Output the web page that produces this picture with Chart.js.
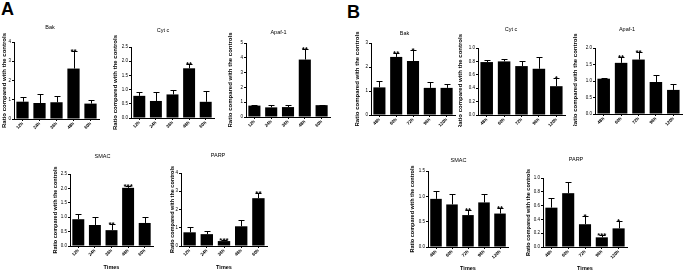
<!DOCTYPE html>
<html><head><meta charset="utf-8">
<script src="https://cdn.jsdelivr.net/npm/chart.js@4.4.1/dist/chart.umd.min.js"></script>
<style>
html,body{margin:0;padding:0;background:#fff;width:685px;height:273px;overflow:hidden;position:relative;font-family:"Liberation Sans",Arial,sans-serif;}
canvas{position:absolute;}
.lbl{position:absolute;font-weight:bold;font-size:18px;line-height:18px;color:#000;}
</style></head><body>
<div class="lbl" style="left:1px;top:0px;">A</div>
<div class="lbl" style="left:347px;top:3px;">B</div>
<script>
// ---- data ----
const timesA = ['12h','24h','36h','48h','60h'];
const timesB = ['48h','60h','72h','96h','120h'];
const yTitle = 'Ratio compared with the controls';
const xTitle = 'Times';

const bakA = [0.90, 0.83, 0.87, 2.62, 0.80];
const bakAErr = [0.22, 0.45, 0.31, 0.93, 0.17];
const bakAStars = ['', '', '', '**', ''];

const cytcA = [0.78, 0.60, 0.83, 1.75, 0.57];
const cytcAErr = [0.12, 0.33, 0.14, 0.15, 0.38];
const cytcAStars = ['', '', '', '**', ''];

const apafA = [0.77, 0.65, 0.67, 3.88, 0.80];
const apafAErr = [0.02, 0.15, 0.15, 0.74, 0.04];
const apafAStars = ['', '', '', '**', ''];

const smacA = [0.93, 0.73, 0.55, 2.02, 0.80];
const smacAErr = [0.17, 0.29, 0.20, 0.05, 0.20];
const smacAStars = ['', '', '**', '***', ''];

const parpA = [0.75, 0.65, 0.27, 1.08, 2.62];
const parpAErr = [0.30, 0.17, 0.05, 0.32, 0.28];
const parpAStars = ['', '', '***', '', '**'];

const bakB = [1.15, 2.42, 2.25, 1.13, 1.13];
const bakBErr = [0.28, 0.18, 0.45, 0.25, 0.17];
const bakBStars = ['', '**', '*', '', ''];

const cytcB = [0.79, 0.80, 0.73, 0.69, 0.43];
const cytcBErr = [0.03, 0.03, 0.08, 0.18, 0.12];
const cytcBStars = ['', '', '', '', '*'];

const apafB = [1.07, 1.55, 1.65, 0.97, 0.73];
const apafBErr = [0.03, 0.17, 0.22, 0.20, 0.17];
const apafBStars = ['', '**', '**', '', ''];

const smacB = [0.95, 0.84, 0.63, 0.88, 0.66];
const smacBErr = [0.15, 0.21, 0.11, 0.17, 0.11];
const smacBStars = ['', '', '**', '', '**'];

const parpB = [0.57, 0.78, 0.33, 0.14, 0.27];
const parpBErr = [0.14, 0.16, 0.12, 0.04, 0.11];
const parpBStars = ['', '', '*', '***', '*'];

// ---- panel layout (positions/styles only) ----
const panels = [
  {title:'Bak',    labels:timesA, data:bakA,  err:bakAErr,  stars:bakAStars,  max:4,   step:1,   dec:0, L:14,  R:99,  T:42,  B:119, tY:27,  yX:5,   times:false},
  {title:'Cyt c',  labels:timesA, data:cytcA, err:cytcAErr, stars:cytcAStars, max:2.5, step:0.5, dec:1, L:131, R:214, T:47,  B:118, tY:30,  yX:116, times:false},
  {title:'Apaf-1', labels:timesA, data:apafA, err:apafAErr, stars:apafAStars, max:5,   step:1,   dec:0, L:246, R:330, T:43,  B:117, tY:32,  yX:231, times:false},
  {title:'Bak',    labels:timesB, data:bakB,  err:bakBErr,  stars:bakBStars,  max:3,   step:1,   dec:0, L:371, R:455, T:43,  B:115, tY:33,  yX:358, times:false},
  {title:'Cyt c',  labels:timesB, data:cytcB, err:cytcBErr, stars:cytcBStars, max:1.0, step:0.2, dec:1, L:478, R:565, T:48,  B:115, tY:29,  yX:461, times:false},
  {title:'Apaf-1', labels:timesB, data:apafB, err:apafBErr, stars:apafBStars, max:2.0, step:0.5, dec:1, L:595, R:682, T:48,  B:114, tY:29,  yX:576, times:false},
  {title:'SMAC',   labels:timesA, data:smacA, err:smacAErr, stars:smacAStars, max:2.5, step:0.5, dec:1, L:70,  R:153, T:174, B:246, tY:156, yX:55,  times:true},
  {title:'PARP',   labels:timesA, data:parpA, err:parpAErr, stars:parpAStars, max:4,   step:1,   dec:0, L:181, R:267, T:173, B:246, tY:155, yX:172, times:true},
  {title:'SMAC',   labels:timesB, data:smacB, err:smacBErr, stars:smacBStars, max:1.5, step:0.5, dec:1, L:428, R:508, T:171, B:247, tY:160, yX:412, times:true},
  {title:'PARP',   labels:timesB, data:parpB, err:parpBErr, stars:parpBStars, max:1.0, step:0.2, dec:1, L:543, R:627, T:178, B:247, tY:159, yX:528, times:true}
];

const FONT = '"Liberation Sans", Arial, sans-serif';

const errPlugin = {
  id: 'errbars',
  afterDatasetsDraw(chart) {
    const ds = chart.data.datasets[0];
    const meta = chart.getDatasetMeta(0);
    const ys = chart.scales.y;
    const ctx = chart.ctx;
    ctx.save();
    ctx.strokeStyle = '#000';
    ctx.fillStyle = '#000';
    ctx.lineWidth = 1;
    meta.data.forEach((bar, i) => {
      const v = ds.data[i], e = ds.err[i];
      const yTop = ys.getPixelForValue(v + e);
      const yv = ys.getPixelForValue(v);
      const x = Math.round(bar.x) + 0.5;
      const yt = Math.round(yTop) + 0.5;
      ctx.beginPath();
      ctx.moveTo(x, yv);
      ctx.lineTo(x, yt);
      ctx.moveTo(x - 3, yt);
      ctx.lineTo(x + 3, yt);
      ctx.stroke();
    });
    ctx.restore();
  },
  afterDraw(chart) {
    const ds = chart.data.datasets[0];
    const meta = chart.getDatasetMeta(0);
    const ys = chart.scales.y;
    const ctx = chart.ctx;
    ctx.save();
    ctx.fillStyle = '#000';
    ctx.font = 'bold 8px ' + FONT;
    ctx.textAlign = 'center';
    ctx.textBaseline = 'alphabetic';
    meta.data.forEach((bar, i) => {
      const s = ds.stars[i];
      if (!s) return;
      const yt = ys.getPixelForValue(ds.data[i] + ds.err[i]);
      ctx.fillText(s, bar.x, yt + 3);
    });
    ctx.restore();
  }
};

panels.forEach(p => {
  const titleSize = 5.5, titleLH = titleSize * 1.2;
  const yTitleSize = p.times ? 5.5 : 6, yLH = yTitleSize * 1.2;
  const cLeft = Math.round(p.yX - yLH / 2);
  const cTop = Math.round(p.tY - titleLH / 2);
  const yw = p.L - cLeft;
  const rightPad = 3;
  const xh = p.times ? 25 : 12;
  const w = (p.R - p.L) + yw + rightPad;
  const h = (p.B - cTop) + xh;
  const titlePadBottom = (p.T - cTop) - titleLH;
  const cv = document.createElement('canvas');
  cv.width = w; cv.height = h;
  cv.style.left = cLeft + 'px';
  cv.style.top = cTop + 'px';
  cv.style.width = w + 'px'; cv.style.height = h + 'px';
  document.body.appendChild(cv);
  new Chart(cv, {
    type: 'bar',
    data: {
      labels: p.labels,
      datasets: [{
        data: p.data,
        err: p.err,
        stars: p.stars,
        backgroundColor: '#000',
        borderColor: '#000',
        borderWidth: 0,
        barPercentage: 0.72,
        categoryPercentage: 1.0
      }]
    },
    options: {
      responsive: false,
      animation: false,
      devicePixelRatio: 1,
      layout: { padding: { left: 0, right: rightPad, top: 0, bottom: 0 } },
      plugins: {
        legend: { display: false },
        tooltip: { enabled: false },
        title: {
          display: true, text: p.title, color: '#000',
          font: { family: FONT, size: titleSize, weight: 'normal', lineHeight: 1.2 },
          padding: { top: 0, bottom: titlePadBottom }
        }
      },
      scales: {
        x: {
          offset: true,
          grid: { display: true, drawOnChartArea: false, drawTicks: true, tickLength: 2, offset: false, color: '#000' },
          border: { display: true, color: '#000', width: 1 },
          ticks: { color: '#000', font: { family: FONT, size: 4.5, weight: 'bold' }, minRotation: 45, maxRotation: 45, padding: 0, autoSkip: false },
          title: { display: p.times, text: xTitle, color: '#000', font: { family: FONT, size: 5.5, weight: 'bold', lineHeight: 1.2 }, padding: { top: 0, bottom: 0 } },
          afterFit: s => { s.height = xh; }
        },
        y: {
          min: 0, max: p.max,
          grid: { display: true, drawOnChartArea: false, drawTicks: true, tickLength: 2, color: '#000' },
          border: { display: true, color: '#000', width: 1 },
          ticks: { stepSize: p.step, color: '#000', font: { family: FONT, size: 4.5 }, padding: 1,
                   callback: v => Number(v).toFixed(p.dec) },
          title: { display: true, text: yTitle, color: '#000', font: { family: FONT, size: yTitleSize, weight: 'bold', lineHeight: 1.2 }, padding: { top: 0, bottom: 0 } },
          afterFit: s => { s.width = yw; }
        }
      }
    },
    plugins: [errPlugin]
  });
});
</script>
</body></html>
